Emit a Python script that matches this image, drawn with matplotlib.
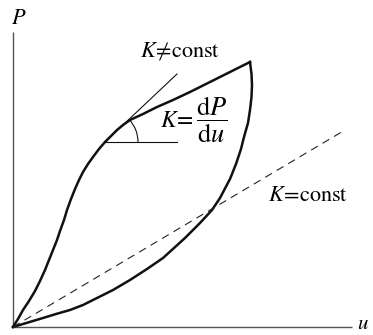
import numpy as np
import matplotlib
matplotlib.use("Agg")
import matplotlib.pyplot as plt
from matplotlib.patches import Arc

plt.rcParams['mathtext.fontset'] = 'stix'
plt.rcParams['font.family'] = 'STIXGeneral'

# loading branch (K != const), from the origin up to the peak
load_u = [0, 0.05, 0.10, 0.16, 0.22, 0.27, 0.32, 0.36, 0.40, 0.44, 0.47,
          0.51, 0.54, 0.58, 0.62, 0.66, 0.70, 0.75, 0.80, 0.86, 0.92,
          0.98, 1.04, 1.10, 1.17, 1.30, 1.44, 1.60, 1.77, 1.93, 2.09,
          2.23, 2.37]
load_P = [0, 0.08, 0.17, 0.26, 0.36, 0.46, 0.57, 0.67, 0.77, 0.87, 0.96,
          1.07, 1.17, 1.28, 1.38, 1.47, 1.55, 1.63, 1.70, 1.78, 1.85,
          1.91, 1.97, 2.02, 2.07, 2.13, 2.20, 2.27, 2.35, 2.43, 2.51,
          2.58, 2.65]

# unloading branch, from the peak back to the origin
unload_u = [2.37, 2.385, 2.39, 2.385, 2.37, 2.35, 2.31, 2.28, 2.23, 2.17,
            2.07, 1.99, 1.87, 1.72, 1.50, 1.34, 1.17, 1.00, 0.84, 0.70,
            0.57, 0.43, 0.30, 0.15, 0]
unload_P = [2.65, 2.53, 2.42, 2.30, 2.17, 2.04, 1.90, 1.78, 1.63, 1.48,
            1.29, 1.17, 1.04, 0.89, 0.69, 0.58, 0.47, 0.37, 0.29, 0.22,
            0.17, 0.13, 0.09, 0.045, 0]

# linear case K = const
lin_u = [0, 3.32]
lin_P = [0, 1.97]

# tangent at the marked point
tan_u = [0.92, 1.64]
tan_P = [1.85, 2.53]
tan_angle = np.degrees(np.arctan2(tan_P[1] - tan_P[0], tan_u[1] - tan_u[0]))

fig = plt.figure(figsize=(3.73, 3.35), dpi=100)
ax = fig.add_axes([0, 0, 1, 1])
ax.set_xlim(-0.13, 3.60)
ax.set_ylim(-0.08, 3.27)
ax.axis('off')

# axes
ax.plot([0, 3.39], [0, 0], color='#555555', lw=1.0, solid_capstyle='butt')
ax.plot([0, 0], [0, 2.95], color='#555555', lw=1.0, solid_capstyle='butt')
ax.text(3.50, 0.025, r'$u$', fontsize=15, ha='center', va='center')
ax.text(0.06, 3.08, r'$P$', fontsize=16, ha='center', va='center')

ax.plot(load_u, load_P, color='#111111', lw=1.8, solid_joinstyle='round')
ax.plot(unload_u, unload_P, color='#111111', lw=1.8, solid_joinstyle='round')
ax.plot(lin_u, lin_P, color='#222222', lw=0.8, dashes=(7, 5))

ax.plot(tan_u, tan_P, color='#111111', lw=0.8)
ax.plot([tan_u[0], tan_u[1]], [tan_P[0], tan_P[0]], color='#111111', lw=0.8)
ax.add_patch(Arc((tan_u[0], tan_P[0]), 0.66, 0.66, theta1=0, theta2=tan_angle,
                 color='#111111', lw=0.8))

ax.text(1.67, 2.76, r'$K\!\neq\!\mathrm{const}$', fontsize=16,
        ha='center', va='center')
ax.text(1.64, 2.06, r'$K\!=$', fontsize=17, ha='center', va='center')
ax.text(1.99, 2.07, r'$\dfrac{\mathrm{d}P}{\mathrm{d}u}$', fontsize=19,
        ha='center', va='center')
ax.text(2.95, 1.31, r'$K\!=\!\mathrm{const}$', fontsize=16,
        ha='center', va='center')

fig.savefig('out.png', dpi=100)
